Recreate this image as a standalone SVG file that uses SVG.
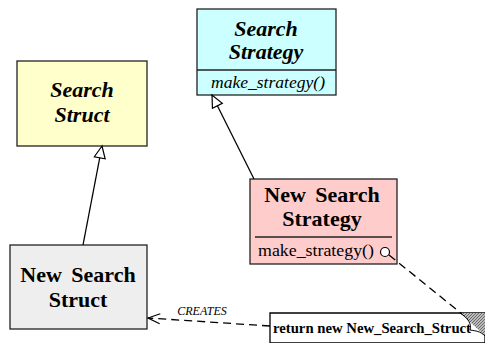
<svg xmlns="http://www.w3.org/2000/svg" width="485" height="343" viewBox="0 0 485 343">
<style>
.box{stroke:#222;stroke-width:1.3}
.t{font-family:"Liberation Serif","Times New Roman",Times,serif;fill:#000;text-anchor:middle}
.bi{font-weight:bold;font-style:italic;font-size:22px}
.b{font-weight:bold;font-size:22px}
.line{stroke:#000;stroke-width:1.3;fill:none}
.dash{stroke:#000;stroke-width:1.3;fill:none;stroke-dasharray:8,5}
</style>
<defs>
<marker id="tri" markerWidth="18" markerHeight="18" refX="13" refY="7" orient="auto" markerUnits="userSpaceOnUse">
<path d="M13,7 L1,1.5 L1,12.5 Z" fill="#fff" stroke="#000" stroke-width="1.2"/>
</marker>
<marker id="open" markerWidth="18" markerHeight="18" refX="13" refY="7" orient="auto" markerUnits="userSpaceOnUse">
<path d="M1,2 L13,7 L1,12" fill="none" stroke="#000" stroke-width="1.2"/>
</marker>
<pattern id="hatch" width="3" height="3" patternUnits="userSpaceOnUse">
<rect width="3" height="3" fill="#bbb"/>
<path d="M0,3 L3,0" stroke="#555" stroke-width="0.8"/>
</pattern>
</defs>
<g id="search-strategy">
<rect class="box" x="197" y="9" width="139" height="86" fill="#ccffff"/>
<line class="box" x1="197" y1="70" x2="336" y2="70"/>
<text class="t bi" x="266" y="36">Search</text>
<text class="t bi" x="266" y="59">Strategy</text>
<text class="t" x="268" y="88" font-style="italic" font-size="17" textLength="114" lengthAdjust="spacingAndGlyphs">make_strategy()</text>
</g>
<g id="search-struct">
<rect class="box" x="17" y="61" width="130" height="85" fill="#ffffcc"/>
<text class="t bi" x="82" y="97">Search</text>
<text class="t bi" x="82" y="122">Struct</text>
</g>
<g id="new-search-strategy">
<rect class="box" x="250" y="179" width="147" height="85" fill="#ffcccc"/>
<line class="box" x1="255" y1="237" x2="392" y2="237"/>
<text class="t b" x="322" y="202" word-spacing="4">New Search</text>
<text class="t b" x="322" y="226">Strategy</text>
<text class="t" x="316" y="256" font-size="17" textLength="116" lengthAdjust="spacingAndGlyphs">make_strategy()</text>
<circle cx="385" cy="252" r="4.5" fill="#fff" stroke="#000" stroke-width="1.2"/>
</g>
<g id="new-search-struct">
<rect class="box" x="10" y="245" width="137" height="84" fill="#eeeeee"/>
<text class="t b" x="78" y="282" word-spacing="4">New Search</text>
<text class="t b" x="78" y="307">Struct</text>
</g>
<g id="note">
<path d="M270,313 L485,313 L485,343 L270,343 Z" fill="#fff" stroke="#000" stroke-width="1.3"/>
<path d="M460,313 L485,313 L485,336 Z" fill="url(#hatch)"/>
<path d="M460,313 C468,318 472,324 470,330 C476,331 480,331 485,336" fill="#fff" stroke="#000" stroke-width="1"/>
<text class="t" x="372" y="333" font-weight="bold" font-size="14" textLength="198" lengthAdjust="spacingAndGlyphs">return new New_Search_Struct</text>
</g>
<g id="connectors">
<line class="line" x1="83" y1="245" x2="102" y2="146" marker-end="url(#tri)"/>
<line class="line" x1="254" y1="179" x2="212" y2="95" marker-end="url(#tri)"/>
<line class="dash" x1="389" y1="255" x2="462" y2="314"/>
<line class="dash" x1="270" y1="326" x2="148" y2="318" marker-end="url(#open)"/>
<text class="t" x="202" y="315" font-style="italic" font-size="12" fill="#333">CREATES</text>
</g>
</svg>
